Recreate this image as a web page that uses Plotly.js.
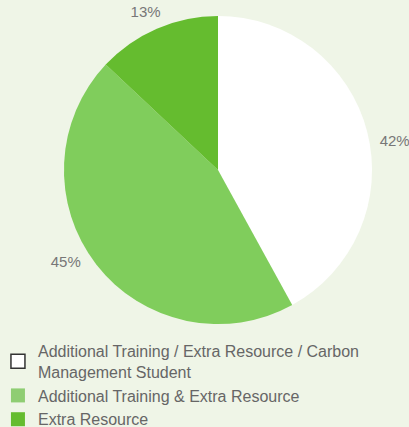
<!DOCTYPE html>
<html><head><meta charset="utf-8">
<script src="https://cdn.plot.ly/plotly-3.0.1.min.js"></script>
<style>html,body{margin:0;padding:0;background:#eff5e7;}</style>
</head><body>
<div id="chart" style="width:409px;height:427px;"></div>
<script>
const categories = ["Additional Training / Extra Resource / Carbon<br>Management Student", "Additional Training & Extra Resource", "Extra Resource"];
const values = [42, 45, 13];
const colors = ["#ffffff", "#80cd5c", "#65bc2f"];
const legendColors = ["#ffffff", "#8fcd73", "#65bc2f"];

const font = "Liberation Sans, Arial, sans-serif";
const traces = [{
  type: "pie",
  values: values,
  labels: categories,
  sort: false,
  direction: "clockwise",
  rotation: 0,
  marker: {colors: colors, line: {width: 0}},
  textinfo: "none",
  hoverinfo: "none",
  showlegend: false,
  domain: {x: [0.156, 0.91], y: [0.241, 0.9625]}
}, {
  // transparent copy that carries the percent labels slightly further out
  type: "pie",
  values: values,
  labels: categories,
  sort: false,
  direction: "clockwise",
  rotation: 4,
  marker: {colors: ["rgba(0,0,0,0)", "rgba(0,0,0,0)", "rgba(0,0,0,0)"], line: {width: 0}},
  textposition: "outside",
  texttemplate: "%{percent:.0%}",
  textfont: {family: font, size: 15, color: "#777777"},
  hoverinfo: "none",
  showlegend: false,
  domain: {x: [0.13, 0.936], y: [0.227, 0.9766]}
}];
categories.forEach((c, i) => {
  traces.push({
    type: "scatter", mode: "markers", x: [null], y: [null], name: c,
    marker: {symbol: "square", size: 14, color: legendColors[i],
      line: {width: i === 0 ? 1.5 : 0, color: "#333333"}},
    hoverinfo: "none"
  });
});

Plotly.newPlot("chart", traces, {
  width: 409, height: 427,
  margin: {l: 0, r: 0, t: 0, b: 0, autoexpand: false},
  paper_bgcolor: "#eff5e7",
  plot_bgcolor: "rgba(0,0,0,0)",
  xaxis: {visible: false},
  yaxis: {visible: false},
  showlegend: true,
  legend: {x: -0.005, y: 0.218, xanchor: "left", yanchor: "top", orientation: "v",
    font: {family: font, size: 16, color: "#666666"},
    bgcolor: "rgba(0,0,0,0)", tracegroupgap: 0, itemwidth: 30}
}, {displayModeBar: false, staticPlot: true});
</script>
</body></html>
